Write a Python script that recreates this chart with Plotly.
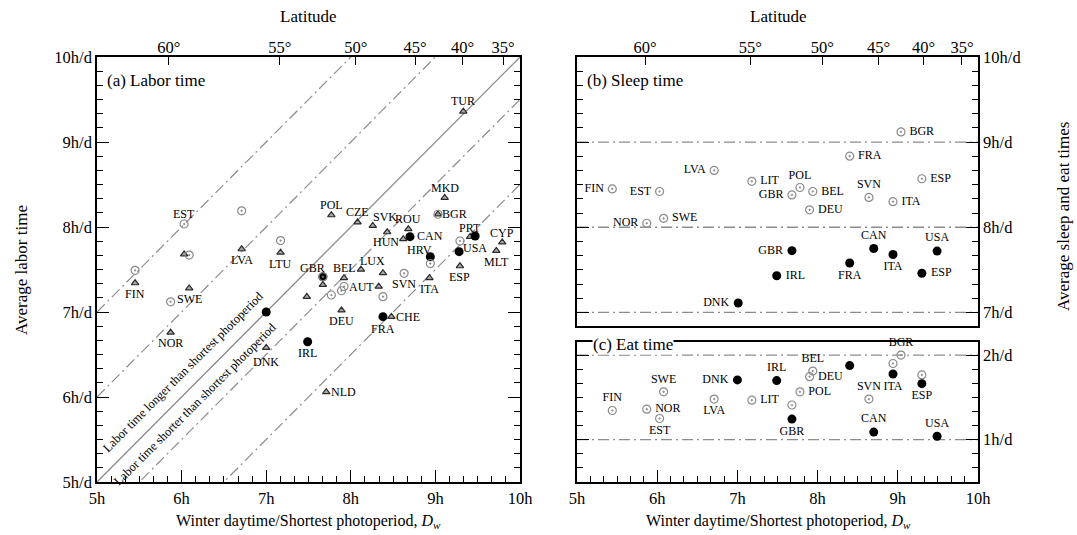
import plotly.graph_objects as go

W, H = 1077, 535
FONT = "Liberation Serif"

# ---------------- data ----------------
# Latitude tick positions on winter-daytime scale
lat_labels = ["60°", "55°", "50°", "45°", "40°", "35°"]
lat_pos = [5.85, 7.16, 8.06, 8.76, 9.32, 9.80]

# reference lines in panel (a): offset from labor = daytime
diag_offsets_dashdot = [2.0, 1.0, -0.5, -1.5]
diag_offset_solid = [0.0]

# (a) Labor time -- national surveys (triangles)
labor_tri_label = ["TUR", "MKD", "", "POL", "CZE", "SVK", "ROU", "", "HUN", "PRT", "CYP", "MLT",
                   "ESP", "ITA", "HRV", "", "LUX", "BEL", "", "AUT", "", "DEU", "CHE", "NLD",
                   "DNK", "NOR", "SWE", "FIN", "", "LVA", "LTU"]
labor_tri_x = [9.33, 9.11, 9.03, 7.77, 8.08, 8.26, 8.68, 8.43, 8.62, 9.41, 9.79, 9.72,
               9.29, 8.93, 8.94, 8.38, 8.12, 7.92, 7.67, 8.33, 7.48, 7.89, 8.48, 7.71,
               7.00, 5.87, 6.09, 5.45, 6.03, 6.71, 7.17]
labor_tri_y = [9.36, 8.345, 8.15, 8.14, 8.055, 8.015, 7.976, 7.94, 7.86, 7.886, 7.82, 7.72,
               7.54, 7.40, 7.65, 7.46, 7.50, 7.40, 7.32, 7.30, 7.18, 7.02, 6.945, 6.06,
               6.58, 6.76, 7.28, 7.34, 7.68, 7.74, 7.70]

# (a) Labor time -- HETUS (grey circles)
labor_circ_label = ["EST", "", "", "", "", "", "GBR", "", "", "", "", "SVN", "", "", "BGR"]
labor_circ_x = [6.03, 6.71, 6.09, 7.17, 5.45, 5.87, 7.67, 7.77, 7.89, 7.92, 8.38, 8.63, 8.94, 9.29, 9.03]
labor_circ_y = [8.035, 8.19, 7.67, 7.84, 7.49, 7.12, 7.415, 7.20, 7.25, 7.30, 7.18, 7.455, 7.57, 7.835, 8.15]

# (a) Labor time -- MTUS (black dots)
labor_dot_label = ["", "IRL", "", "FRA", "CAN", "", "", "USA"]
labor_dot_x = [7.00, 7.49, 7.67, 8.38, 8.70, 8.94, 9.28, 9.47]
labor_dot_y = [7.00, 6.65, 7.415, 6.945, 7.886, 7.65, 7.71, 7.894]

# (b) Sleep time
sleep_circ_label = ["BGR", "FRA", "LVA", "LIT", "POL", "BEL", "GBR", "DEU", "SVN", "ITA", "ESP",
                    "FIN", "EST", "NOR", "SWE"]
sleep_circ_x = [9.04, 8.40, 6.71, 7.18, 7.78, 7.94, 7.68, 7.90, 8.64, 8.94, 9.30, 5.44, 6.03, 5.87, 6.08]
sleep_circ_y = [9.12, 8.835, 8.667, 8.54, 8.467, 8.42, 8.38, 8.205, 8.35, 8.30, 8.57, 8.45, 8.42, 8.047, 8.105]
sleep_dot_label = ["GBR", "CAN", "ITA", "USA", "FRA", "ESP", "IRL", "DNK"]
sleep_dot_x = [7.68, 8.70, 8.94, 9.49, 8.40, 9.30, 7.49, 7.01]
sleep_dot_y = [7.725, 7.75, 7.68, 7.72, 7.58, 7.46, 7.43, 7.11]

# (c) Eat time
eat_circ_label = ["FRA", "BGR", "", "BEL", "DEU", "", "POL", "SVN", "LIT", "", "LVA", "SWE", "NOR", "EST", "FIN"]
eat_circ_x = [8.40, 9.04, 8.94, 7.94, 7.90, 9.30, 7.78, 8.64, 7.18, 7.68, 6.71, 6.08, 5.87, 6.03, 5.44]
eat_circ_y = [2.247, 2.0, 1.90, 1.81, 1.745, 1.765, 1.565, 1.48, 1.467, 1.41, 1.48, 1.565, 1.36, 1.25, 1.345]
eat_dot_label = ["", "ITA", "ESP", "DNK", "IRL", "GBR", "CAN", "USA"]
eat_dot_x = [8.40, 8.94, 9.30, 7.00, 7.49, 7.68, 8.70, 9.49]
eat_dot_y = [1.875, 1.776, 1.662, 1.706, 1.698, 1.243, 1.09, 1.04]

sleep_ref_lines = [9, 8, 7]
eat_ref_lines = [2, 1]

# ---------------- label placement (style) ----------------
# panel (a): pixel offset of label centre from its mark (dx right, dy down)
labor_tri_off = [(0, -10), (0, -10), None, (0, -10), (0, -10), (12, -9), (0, -10), None,
                 (-17, 3), (0, -9), (0, -9), (0, 11), (0, 11), (0, 11), (-11, -7), None,
                 (12, -9), (0, -10), None, (-17, 0), None, (0, 11), (17, 0), (17, 0),
                 (0, 14), (0, 11), (0, 11), (0, 11), None, (0, 11), (0, 11)]
labor_circ_off = [(0, -10), None, None, None, None, None, (-10, -9), None, None, None, None,
                  (0, 11), None, None, (17, 0)]
labor_dot_off = [None, (0, 11), None, (0, 12), (20, -1), None, None, (0, 12)]

TC, BC, MR, ML = "top center", "bottom center", "middle right", "middle left"
sleep_circ_pos = [MR, MR, ML, MR, TC, MR, ML, MR, TC, MR, MR, ML, ML, ML, MR]
sleep_dot_pos = [ML, TC, BC, TC, BC, MR, MR, ML]
eat_circ_pos = [BC, TC, TC, TC, MR, TC, MR, TC, MR, TC, BC, TC, MR, BC, TC]
eat_dot_pos = [TC, BC, BC, ML, TC, BC, TC, TC]

GREY = "#8a8a8a"
LINE_GREY = "#8c8c8c"
DASH = "11px,4px,2px,4px"
LABEL_FONT = dict(family=FONT, size=12, color="black")


def pad(labels, pos):
    out = []
    for l, p in zip(labels, pos):
        if l and "right" in p:
            out.append("\u2009" + l)
        elif l and "left" in p:
            out.append(l + "\u2009")
        else:
            out.append(l)
    return out


TRI_MARK = dict(symbol="triangle-up", size=6.5, color="#a8a8a8", line=dict(color="#2a2a2a", width=1.2))
CIRC_MARK = dict(symbol="circle-open-dot", size=8, color=GREY, line=dict(color=GREY, width=1.2))
DOT_MARK = dict(symbol="circle", size=9, color="black")


def marks(x, y, mk, xa, ya, labels=None, pos=None):
    if labels is None:
        return go.Scatter(x=x, y=y, mode="markers", marker=mk, xaxis=xa, yaxis=ya,
                          showlegend=False, hoverinfo="skip")
    return go.Scatter(x=x, y=y, mode="markers+text", text=pad(labels, pos), textposition=pos,
                      textfont=LABEL_FONT, marker=mk, xaxis=xa, yaxis=ya, showlegend=False,
                      cliponaxis=False, hoverinfo="skip")


fig = go.Figure()

# diagonal reference lines (panel a)
for o in diag_offsets_dashdot:
    fig.add_trace(go.Scatter(x=[5, 10], y=[5 + o, 10 + o], mode="lines",
                             line=dict(color=LINE_GREY, width=1.2, dash=DASH),
                             xaxis="x", yaxis="y", showlegend=False, hoverinfo="skip"))
for o in diag_offset_solid:
    fig.add_trace(go.Scatter(x=[5, 10], y=[5 + o, 10 + o], mode="lines",
                             line=dict(color=LINE_GREY, width=1.3),
                             xaxis="x", yaxis="y", showlegend=False, hoverinfo="skip"))

# horizontal reference lines (panels b, c)
for v in sleep_ref_lines:
    fig.add_trace(go.Scatter(x=[5, 10], y=[v, v], mode="lines",
                             line=dict(color=LINE_GREY, width=1.3, dash=DASH),
                             xaxis="x3", yaxis="y3", showlegend=False, hoverinfo="skip"))
for v in eat_ref_lines:
    fig.add_trace(go.Scatter(x=[5, 10], y=[v, v], mode="lines",
                             line=dict(color=LINE_GREY, width=1.3, dash=DASH),
                             xaxis="x5", yaxis="y5", showlegend=False, hoverinfo="skip"))

# panel a markers
fig.add_trace(marks(labor_tri_x, labor_tri_y, TRI_MARK, "x", "y"))
fig.add_trace(marks(labor_dot_x, labor_dot_y, DOT_MARK, "x", "y"))
fig.add_trace(marks(labor_circ_x, labor_circ_y, CIRC_MARK, "x", "y"))
# panel b
fig.add_trace(marks(sleep_circ_x, sleep_circ_y, CIRC_MARK, "x3", "y3", sleep_circ_label, sleep_circ_pos))
fig.add_trace(marks(sleep_dot_x, sleep_dot_y, DOT_MARK, "x3", "y3", sleep_dot_label, sleep_dot_pos))
# panel c
fig.add_trace(marks(eat_circ_x, eat_circ_y, CIRC_MARK, "x5", "y5", eat_circ_label, eat_circ_pos))
fig.add_trace(marks(eat_dot_x, eat_dot_y, DOT_MARK, "x5", "y5", eat_dot_label, eat_dot_pos))

# empty traces so latitude axes render
fig.add_trace(go.Scatter(x=[None], y=[None], xaxis="x2", yaxis="y", showlegend=False))
fig.add_trace(go.Scatter(x=[None], y=[None], xaxis="x4", yaxis="y3", showlegend=False))


def px(v):
    return v / W


def py(v):
    return 1 - v / H


tickfont = dict(family=FONT, size=16.5, color="black")
minor = dict(ticks="inside", ticklen=6, tickwidth=1, tickcolor="black", dtick=1 / 6, tick0=0)
base = dict(range=[5, 10], showgrid=False, zeroline=False, showline=True, linecolor="black",
            linewidth=1.5, ticks="inside", tickwidth=1.2, tickcolor="black", ticklen=12,
            tickfont=tickfont, automargin=False)
latax = dict(range=[5, 10], side="top", showgrid=False, zeroline=False, showline=False,
             tickmode="array", tickvals=lat_pos, ticktext=lat_labels, ticks="inside",
             ticklen=8, tickwidth=1.2, tickcolor="black", tickfont=tickfont, automargin=False)

LX = [px(97), px(520)]
RX = [px(577), px(978)]

fig.update_layout(
    width=W, height=H, margin=dict(l=0, r=0, t=0, b=0, autoexpand=False),
    paper_bgcolor="white", plot_bgcolor="white",
    font=dict(family=FONT, color="black"),
    xaxis=dict(base, domain=LX, anchor="y", tickmode="linear", tick0=5, dtick=1,
               ticksuffix="h", mirror=True, minor=minor),
    yaxis=dict(base, domain=[py(482), py(57)], anchor="x", tickmode="linear", tick0=5, dtick=1,
               ticksuffix="h/d", mirror="ticks", minor=minor),
    xaxis2=dict(latax, overlaying="x", anchor="y"),
    xaxis3=dict(base, domain=RX, anchor="y3", ticks="", showticklabels=False, mirror=True),
    yaxis3=dict(base, domain=[py(326), py(57)], range=[6.84, 10], anchor="x3", side="right",
                tickmode="linear", tick0=0, dtick=1, ticksuffix="h/d", mirror="ticks",
                minor=minor),
    xaxis4=dict(latax, overlaying="x3", anchor="y3"),
    xaxis5=dict(base, domain=RX, anchor="y5", tickmode="linear", tick0=5, dtick=1,
                ticksuffix="h", mirror=True, minor=minor),
    yaxis5=dict(base, domain=[py(482), py(341.5)], range=[0.5, 2.16], anchor="x5", side="right",
                tickmode="linear", tick0=0, dtick=1, ticksuffix="h/d", mirror="ticks",
                minor=minor),
)

ann = []
title_font = dict(family=FONT, size=17, color="black")


def pa(text, x, y, font=title_font, xanchor="center", angle=0, bg=None):
    d = dict(text=text, x=px(x), y=py(y), xref="paper", yref="paper", showarrow=False,
             xanchor=xanchor, yanchor="middle", font=font, textangle=angle)
    if bg:
        d["bgcolor"] = bg
        d["borderpad"] = 0
    return d


# country labels of panel (a)
for labels, xs, ys, offs in [(labor_tri_label, labor_tri_x, labor_tri_y, labor_tri_off),
                             (labor_circ_label, labor_circ_x, labor_circ_y, labor_circ_off),
                             (labor_dot_label, labor_dot_x, labor_dot_y, labor_dot_off)]:
    for lab, xv, yv, off in zip(labels, xs, ys, offs):
        if not lab or off is None:
            continue
        ann.append(dict(text=lab, x=xv, y=yv, xref="x", yref="y", showarrow=False,
                        xanchor="center", yanchor="middle", xshift=off[0], yshift=-off[1],
                        font=LABEL_FONT))

ann.append(pa("Latitude", 308, 16))
ann.append(pa("Latitude", 778, 16))
xt = "Winter daytime/Shortest photoperiod, <i>D<sub>w</sub></i>"
ann.append(pa(xt, 308, 521, font=dict(family=FONT, size=16, color="black")))
ann.append(pa(xt, 778, 521, font=dict(family=FONT, size=16, color="black")))
ann.append(pa("Average labor time", 22, 270, angle=-90))
ann.append(pa("Average sleep and eat times", 1063, 217, angle=-90))
ann.append(pa("(a) Labor time", 105, 80, xanchor="left"))
ann.append(pa("(b) Sleep time", 585, 80, xanchor="left"))
ann.append(pa("(c) Eat time", 592, 344, xanchor="left", bg="white"))
ann.append(dict(text="Labor time longer than shortest photoperiod", x=6.02, y=6.29,
                xref="x", yref="y", showarrow=False, textangle=-45, xanchor="center",
                yanchor="middle", font=dict(family=FONT, size=12.5, color="black")))
ann.append(dict(text="Labor time shorter than shortest photoperiod", x=6.16, y=5.92,
                xref="x", yref="y", showarrow=False, textangle=-45, xanchor="center",
                yanchor="middle", font=dict(family=FONT, size=12.5, color="black")))
fig.update_layout(annotations=ann)

fig.write_html("out.html", config={"displayModeBar": False},
               post_script="document.body.style.margin='0';document.body.style.padding='0';")
